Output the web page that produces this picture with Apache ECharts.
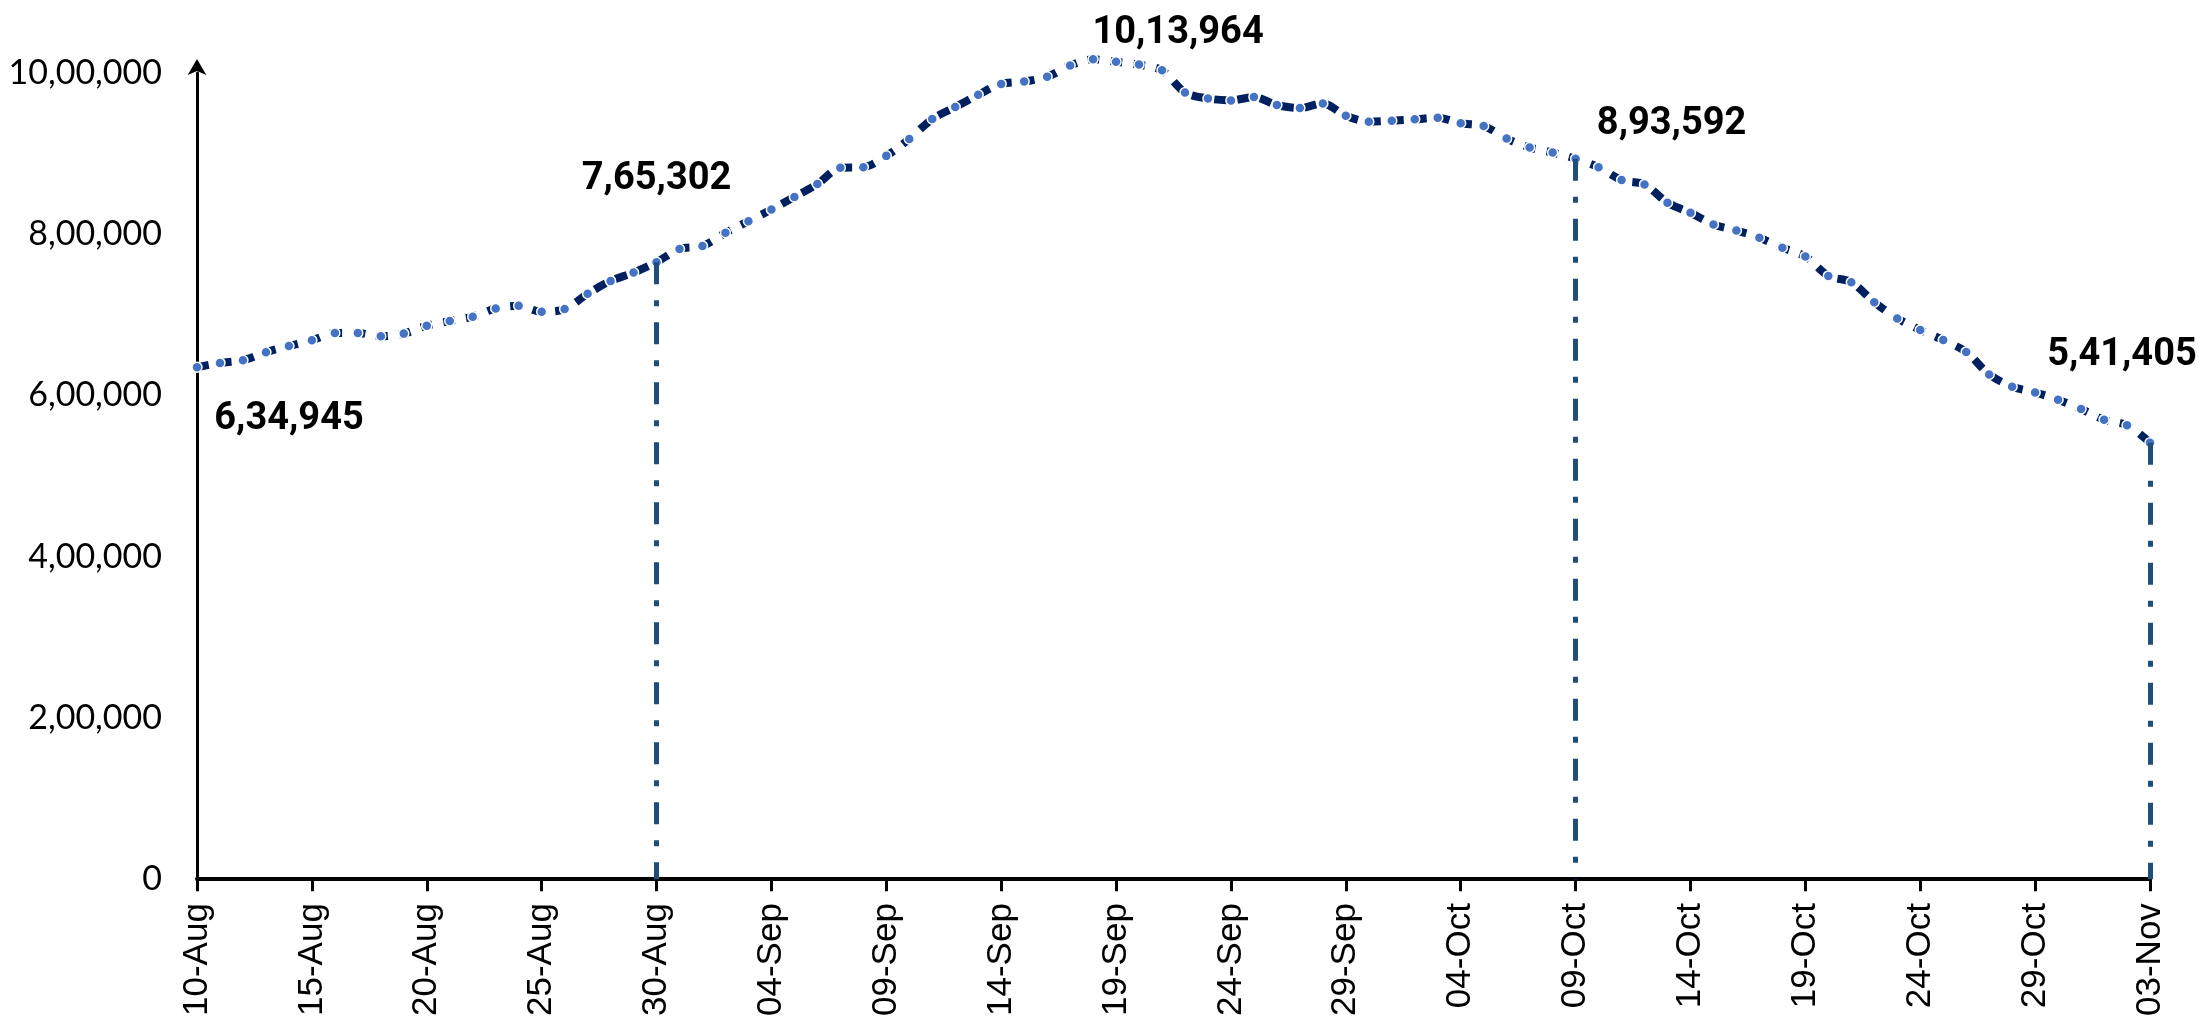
<html>
<head>
<meta charset="utf-8">
<title>Daily trend</title>
<script src="https://cdn.jsdelivr.net/npm/echarts@6.0.0/dist/echarts.min.js"></script>
<style>
  html, body { margin: 0; padding: 0; background: #fff; }
  #chart { width: 2199px; height: 1019px; }
</style>
</head>
<body>
<div id="chart"></div>
<script type="text/javascript">
// dates 10-Aug .. 03-Nov
var dates = [
  '10-Aug','11-Aug','12-Aug','13-Aug','14-Aug','15-Aug','16-Aug','17-Aug','18-Aug','19-Aug',
  '20-Aug','21-Aug','22-Aug','23-Aug','24-Aug','25-Aug','26-Aug','27-Aug','28-Aug','29-Aug',
  '30-Aug','31-Aug','01-Sep','02-Sep','03-Sep','04-Sep','05-Sep','06-Sep','07-Sep','08-Sep',
  '09-Sep','10-Sep','11-Sep','12-Sep','13-Sep','14-Sep','15-Sep','16-Sep','17-Sep','18-Sep',
  '19-Sep','20-Sep','21-Sep','22-Sep','23-Sep','24-Sep','25-Sep','26-Sep','27-Sep','28-Sep',
  '29-Sep','30-Sep','01-Oct','02-Oct','03-Oct','04-Oct','05-Oct','06-Oct','07-Oct','08-Oct',
  '09-Oct','10-Oct','11-Oct','12-Oct','13-Oct','14-Oct','15-Oct','16-Oct','17-Oct','18-Oct',
  '19-Oct','20-Oct','21-Oct','22-Oct','23-Oct','24-Oct','25-Oct','26-Oct','27-Oct','28-Oct',
  '29-Oct','30-Oct','31-Oct','01-Nov','02-Nov','03-Nov'
];

var values = [
  634945, 640400, 643700, 653600, 661400, 668400, 677500, 677500, 673400, 676700,
  686600, 692300, 697700, 707900, 711200, 703800, 707100, 726100, 742100, 752400,
  765302, 781700, 785300, 801800, 816200, 830600, 846200, 862300, 882400, 883200,
  897200, 918200, 942900, 957700, 973000, 986500, 989400, 995200, 1009200, 1017000,
  1013964, 1010400, 1003300, 975800, 968400, 966000, 970100, 960200, 956500, 962300,
  947000, 939600, 940900, 942500, 944500, 937600, 934300, 918600, 907500, 901400,
  893592, 883200, 867200, 861800, 839000, 826500, 812100, 804600, 795600, 783200,
  772500, 748300, 740400, 715700, 695600, 681200, 668800, 654000, 626100, 610800,
  603800, 594700, 583200, 570000, 563100, 541405
];

// annotated points (drop lines + value labels)
var dropIdx = [20, 40, 60, 85];
var labelIdx = [0, 20, 40, 60, 85];
var labelOffsets = [[92, 52], [0, -83], [62, -28], [96, -34], [-28, -87]];

function indianFmt(n) {
  var s = String(Math.round(n));
  if (s.length <= 3) return s;
  var last3 = s.slice(-3);
  var rest = s.slice(0, -3);
  rest = rest.replace(/\B(?=(\d{2})+(?!\d))/g, ',');
  return rest + ',' + last3;
}

var seriesData = values.map(function (v, i) {
  var k = labelIdx.indexOf(i);
  if (k < 0) return v;
  return {
    value: v,
    label: {
      show: true,
      position: 'inside',
      offset: labelOffsets[k],
      formatter: indianFmt(v),
      fontFamily: 'Roboto, sans-serif',
      fontWeight: 'bold',
      fontSize: 38,
      color: '#000'
    }
  };
});

var dropLines = dropIdx.map(function (i) {
  return [{ coord: [i, values[i]] }, { coord: [i, 0] }];
});

var chart = echarts.init(document.getElementById('chart'));
chart.setOption({
  animation: false,
  backgroundColor: '#fff',
  grid: { left: 197, right: 49, top: 73, bottom: 136 },
  xAxis: {
    type: 'category',
    data: dates,
    boundaryGap: false,
    axisLine: { lineStyle: { color: '#000', width: 4 } },
    axisTick: { show: true, interval: 4, length: 12, lineStyle: { color: '#000', width: 3 } },
    axisLabel: {
      interval: 4,
      rotate: 90,
      margin: 24,
      fontFamily: '"Liberation Sans", Arial, sans-serif',
      fontSize: 35,
      color: '#000'
    },
    splitLine: { show: false }
  },
  yAxis: {
    type: 'value',
    min: 0,
    max: 1000000,
    interval: 200000,
    axisLine: {
      show: true,
      symbol: ['none', 'arrow'],
      symbolSize: [14, 16],
      symbolOffset: [0, 14],
      lineStyle: { color: '#000', width: 3 }
    },
    axisTick: { show: false },
    axisLabel: {
      margin: 35,
      fontFamily: 'Lato, "Open Sans", sans-serif',
      fontSize: 34,
      color: '#000',
      formatter: function (v) { return indianFmt(v); }
    },
    splitLine: { show: false }
  },
  series: [{
    type: 'line',
    data: seriesData,
    smooth: 0.3,
    clip: false,
    symbol: 'circle',
    symbolSize: 10,
    itemStyle: { color: '#4472C4', borderColor: '#fff', borderWidth: 1.5 },
    lineStyle: { color: '#002060', width: 8, type: [12, 11] },
    label: { show: false },
    markLine: {
      silent: true,
      symbol: ['none', 'none'],
      label: { show: false },
      lineStyle: { color: '#1F4E79', width: 5, type: [22, 16, 6, 16] },
      data: dropLines
    },
    z: 3
  }]
});
</script>
</body>
</html>
